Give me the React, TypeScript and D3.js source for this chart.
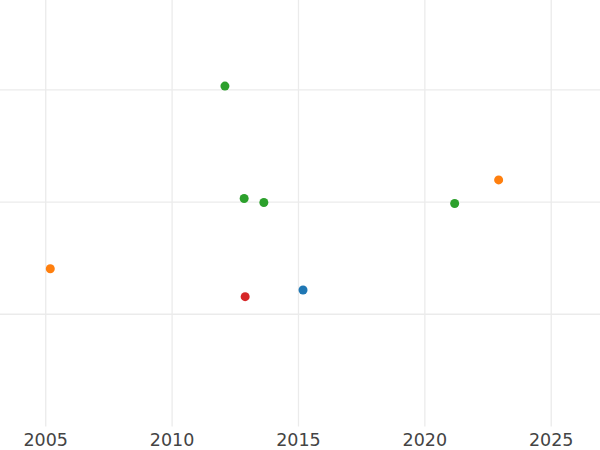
import React from "react";
import * as d3 from "d3";

const years = [2012.09, 2012.85, 2013.63, 2021.18, 2022.92, 2005.18, 2012.89, 2015.18];
const values = [3.033, 2.031, 1.996, 1.987, 2.197, 1.406, 1.157, 1.216];
const groups = ["C", "C", "C", "C", "B", "B", "D", "A"];
const groupNames = ["A", "B", "C", "D"];
const groupColors = ["#1f77b4", "#ff7f0e", "#2ca02c", "#d62728"];
const xTicks = [2005, 2010, 2015, 2020, 2025];
const yTicks = [1, 2, 3];

const W = 600;
const H = 450;
const plotBottom = 426.5;

export default function App() {
  const x = d3.scaleLinear().domain([2003.19, 2026.93]).range([0, W]);
  const y = d3.scaleLinear().domain([0, 3.8]).range([plotBottom, 0]);
  const color = d3.scaleOrdinal<string, string>().domain(groupNames).range(groupColors);

  return (
    <svg
      width={W}
      height={H}
      style={{ position: "absolute", left: 0, top: 0, background: "#fff" }}
    >
      <g>
        {yTicks.map((t) => (
          <line key={"h" + t} x1={0} x2={W} y1={y(t)} y2={y(t)} stroke="#ebebeb" strokeWidth={1.3} />
        ))}
        {xTicks.map((t) => (
          <line key={"v" + t} x1={x(t)} x2={x(t)} y1={0} y2={plotBottom} stroke="#ebebeb" strokeWidth={1.3} />
        ))}
      </g>
      <g>
        {years.map((yr, i) => (
          <circle key={i} cx={x(yr)} cy={y(values[i])} r={4.5} fill={color(groups[i])} />
        ))}
      </g>
      <g>
        {xTicks.map((t) => (
          <text
            key={"l" + t}
            x={x(t)}
            y={446}
            textAnchor="middle"
            fontFamily="DejaVu Sans"
            fontSize={17.5}
            fill="#444"
          >
            {String(t)}
          </text>
        ))}
      </g>
    </svg>
  );
}
